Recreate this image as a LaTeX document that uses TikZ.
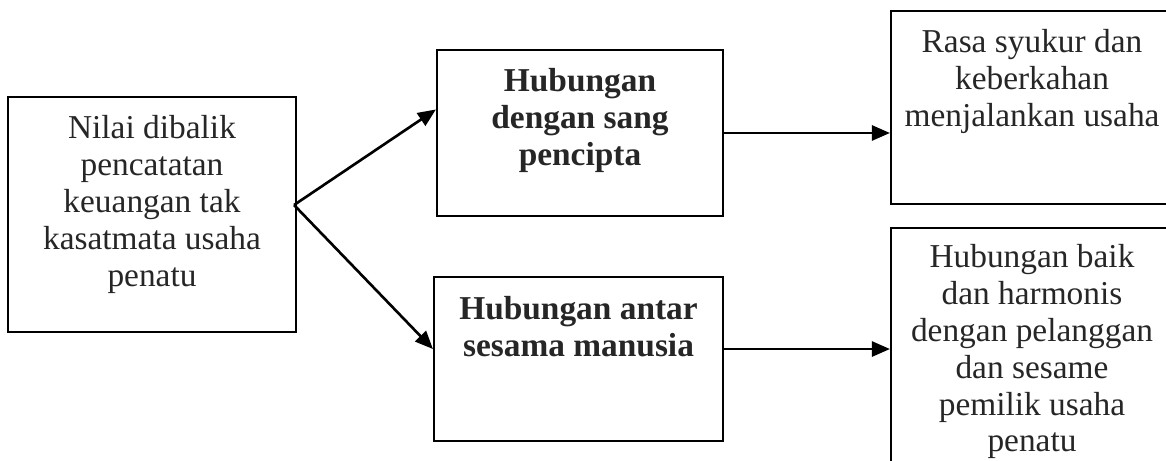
\documentclass[tikz,border=0pt]{standalone}
\usepackage{fontspec}
\setmainfont{Liberation Serif}
\usetikzlibrary{calc,positioning,arrows.meta}

\begin{document}
\begin{tikzpicture}[>={Triangle[length=0.36cm,width=0.3cm]}, font=\fontsize{19}{21}\selectfont,
		frame/.style={draw, line width=1.2pt, inner sep=0pt},
		txt/.style={align=center, text=black!85, inner sep=0pt},
		link/.style={->, line width=1.5pt}]
		\useasboundingbox (0,0) rectangle (23.32,9.22);
		% source box on the left
		\node[frame, minimum width=5.76cm, minimum height=4.7cm] (src) at (3.04,4.93) {};
		\node[txt, below=0.38cm of src.north] (srcT) {Nilai dibalik\\pencatatan\\keuangan tak\\kasatmata usaha\\penatu};
		% the two relations in the middle
		\node[frame, minimum width=5.72cm, minimum height=3.32cm] (rel) at (11.6,6.56) {};
		\node[txt, below=0.38cm of rel.north, font=\fontsize{19}{21}\selectfont\bfseries] (relT) {Hubungan\\dengan sang\\pencipta};
		\node[frame, minimum width=5.78cm, minimum height=3.28cm] (hum) at (11.57,2.04) {};
		\node[txt, below=0.4cm of hum.north, font=\fontsize{19}{21}\selectfont\bfseries] (humT) {Hubungan antar\\sesama manusia};
		% results on the right (cut by the page edge)
		\node[frame, minimum width=5.64cm, minimum height=3.86cm] (grat) at (20.64,7.07) {};
		\node[txt, below=0.38cm of grat.north] (gratT) {Rasa syukur dan\\keberkahan\\menjalankan usaha};
		\node[frame, minimum width=5.64cm, minimum height=5.04cm] (harm) at (20.64,2.14) {};
		\node[txt, below=0.34cm of harm.north] (harmT) {Hubungan baik\\dan harmonis\\dengan pelanggan\\dan sesame\\pemilik usaha\\penatu};
		% arrows
		\coordinate (fork) at ($(src.east)+(-0.06,0.19)$);
		\coordinate (humR) at ($(hum.north east)!0.44!(hum.south east)$);
		\draw[link] (fork) -- ($(rel.north west)!0.36!(rel.south west)$);
		\draw[link] (fork) -- ($(hum.north west)!0.44!(hum.south west)$);
		\draw[link] (rel.east) -- (rel.east -| grat.west);
		\draw[link] (humR) -- (humR -| harm.west);
	\end{tikzpicture}
\end{document}
